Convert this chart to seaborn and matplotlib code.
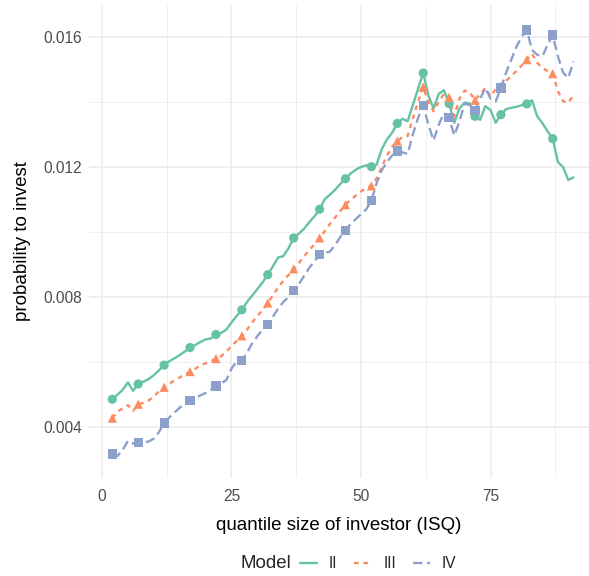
import numpy as np
import pandas as pd
import matplotlib
matplotlib.use("Agg")
import matplotlib.pyplot as plt
from matplotlib.lines import Line2D
import seaborn as sns

# investor size quantiles
isq = list(range(2, 92))

model_ii = [
    0.00486, 0.00500, 0.00515, 0.00538, 0.00512, 0.00533, 0.00540, 0.00548, 0.00560, 0.00575,
    0.00591, 0.00603, 0.00612, 0.00622, 0.00633, 0.00645, 0.00653, 0.00662, 0.00670, 0.00673,
    0.00685, 0.00690, 0.00700, 0.00722, 0.00742, 0.00761, 0.00785, 0.00805, 0.00825, 0.00845,
    0.00869, 0.00895, 0.00922, 0.00926, 0.00950, 0.00982, 0.00995, 0.01010, 0.01030, 0.01048,
    0.01070, 0.01101, 0.01115, 0.01130, 0.01148, 0.01164, 0.01180, 0.01192, 0.01200, 0.01205,
    0.01201, 0.01207, 0.01255, 0.01285, 0.01305, 0.01334, 0.01348, 0.01341, 0.01390, 0.01440,
    0.01489, 0.01420, 0.01380, 0.01425, 0.01436, 0.01395, 0.01336, 0.01380, 0.01398, 0.01395,
    0.01356, 0.01345, 0.01387, 0.01375, 0.01336, 0.01361, 0.01378, 0.01382, 0.01385, 0.01390,
    0.01394, 0.01405, 0.01356, 0.01335, 0.01310, 0.01287, 0.01215, 0.01200, 0.01160, 0.01168,
]

model_iii = [
    0.00428, 0.00448, 0.00458, 0.00468, 0.00450, 0.00471, 0.00475, 0.00482, 0.00495, 0.00510,
    0.00523, 0.00533, 0.00545, 0.00553, 0.00562, 0.00571, 0.00580, 0.00590, 0.00597, 0.00603,
    0.00611, 0.00618, 0.00632, 0.00650, 0.00665, 0.00681, 0.00700, 0.00722, 0.00742, 0.00760,
    0.00782, 0.00805, 0.00830, 0.00850, 0.00868, 0.00887, 0.00905, 0.00925, 0.00945, 0.00962,
    0.00982, 0.01003, 0.01025, 0.01045, 0.01065, 0.01084, 0.01100, 0.01112, 0.01125, 0.01135,
    0.01142, 0.01165, 0.01200, 0.01235, 0.01262, 0.01280, 0.01292, 0.01295, 0.01350, 0.01400,
    0.01446, 0.01400, 0.01371, 0.01400, 0.01425, 0.01414, 0.01356, 0.01410, 0.01435, 0.01430,
    0.01405, 0.01425, 0.01443, 0.01417, 0.01440, 0.01448, 0.01465, 0.01480, 0.01495, 0.01512,
    0.01530, 0.01548, 0.01520, 0.01505, 0.01495, 0.01487, 0.01433, 0.01402, 0.01397, 0.01422,
]

model_iv = [
    0.00318, 0.00312, 0.00330, 0.00358, 0.00350, 0.00352, 0.00354, 0.00356, 0.00365, 0.00385,
    0.00413, 0.00430, 0.00445, 0.00460, 0.00472, 0.00483, 0.00490, 0.00498, 0.00505, 0.00515,
    0.00527, 0.00535, 0.00545, 0.00580, 0.00603, 0.00606, 0.00630, 0.00658, 0.00680, 0.00700,
    0.00717, 0.00740, 0.00765, 0.00785, 0.00800, 0.00820, 0.00840, 0.00865, 0.00890, 0.00910,
    0.00930, 0.00936, 0.00940, 0.00960, 0.00985, 0.01006, 0.01025, 0.01040, 0.01055, 0.01070,
    0.01096, 0.01150, 0.01190, 0.01215, 0.01235, 0.01249, 0.01245, 0.01240, 0.01300, 0.01350,
    0.01390, 0.01330, 0.01282, 0.01330, 0.01366, 0.01351, 0.01297, 0.01340, 0.01395, 0.01390,
    0.01374, 0.01410, 0.01443, 0.01410, 0.01402, 0.01443, 0.01490, 0.01530, 0.01570, 0.01600,
    0.01621, 0.01560, 0.01545, 0.01540, 0.01575, 0.01606, 0.01540, 0.01490, 0.01474, 0.01524,
]

models = ["II", "III", "IV"]
x_ticks = [0, 25, 50, 75]
y_ticks = [0.004, 0.008, 0.012, 0.016]
y_tick_labels = ["0.004", "0.008", "0.012", "0.016"]

df = pd.concat([
    pd.DataFrame({"isq": isq, "prob": vals, "Model": m})
    for m, vals in zip(models, [model_ii, model_iii, model_iv])
], ignore_index=True)
pts = df[(df["isq"] - 2) % 5 == 0]

sns.set_theme(style="white")
plt.rcParams["font.family"] = ["Liberation Sans", "DejaVu Sans"]

palette = {"II": "#66C2A5", "III": "#FC8D62", "IV": "#8DA0CB"}
dashes = {"II": "", "III": (2, 2), "IV": (4, 2)}
marks = {"II": "o", "III": "^", "IV": "s"}

fig = plt.figure(figsize=(5.89, 5.76), dpi=100)
ax = fig.add_axes([89 / 589, 1 - 478 / 576, 500 / 589, 473 / 576])

sns.lineplot(data=df, x="isq", y="prob", hue="Model", style="Model",
             palette=palette, dashes=dashes, linewidth=1.7, legend=False, ax=ax)
sns.scatterplot(data=pts, x="isq", y="prob", hue="Model", style="Model",
                palette=palette, markers=marks, s=44, linewidth=0,
                legend=False, ax=ax, zorder=3)

ax.set_xlim(-2.5, 94)
ax.set_ylim(0.00244, 0.01698)
ax.set_xticks(x_ticks)
ax.set_xticks([12.5, 37.5, 62.5, 87.5], minor=True)
ax.set_yticks(y_ticks)
ax.set_yticklabels(y_tick_labels)
ax.set_yticks([0.006, 0.010, 0.014], minor=True)
ax.grid(which="major", color="#EBEBEB", linewidth=1.1)
ax.grid(which="minor", color="#EBEBEB", linewidth=0.55)
ax.set_axisbelow(True)
for s in ax.spines.values():
    s.set_visible(False)
ax.tick_params(which="both", length=0, labelsize=11.2, labelcolor="#4D4D4D")
ax.tick_params(axis="x", pad=8)
ax.tick_params(axis="y", pad=5)
ax.set_xlabel("quantile size of investor (ISQ)", fontsize=13.5, color="black", labelpad=9)
ax.set_ylabel("probability to invest", fontsize=13.5, color="black", labelpad=9)

handles = [Line2D([], [], color=palette[m], linewidth=1.7,
                  linestyle="-" if m == "II" else (0, dashes[m]))
           for m in models]
fig.text(240 / 589, 1 - 564 / 576, "Model", fontsize=13.5, va="center", ha="left")
fig.legend(handles, models, loc="center left", bbox_to_anchor=(300 / 589, 1 - 564 / 576),
           ncol=3, frameon=False, fontsize=11.2, handlelength=1.1, handletextpad=0.75,
           columnspacing=1.1, borderpad=0, borderaxespad=0)

fig.savefig("out.png", dpi=100, facecolor="white")
